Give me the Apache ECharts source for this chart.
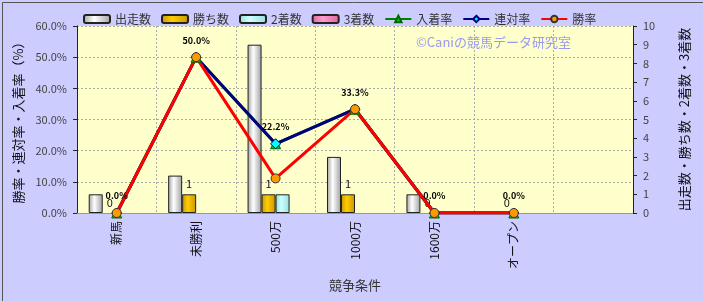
<!DOCTYPE html>
<html><head><meta charset="utf-8">
<script src="https://cdn.jsdelivr.net/npm/echarts@6/dist/echarts.min.js"></script>
<style>html,body{margin:0;padding:0;background:#ccccff;}#c{width:703px;height:301px;}</style>
</head><body><div id="c"></div>
<script>
const categories = ['新馬','未勝利','500万','1000万','1600万','オープン'];
const starts   = [1, 2, 9, 3, 1, 0];
const wins     = [0, 1, 1, 1, 0, 0];
const seconds  = [0, 0, 1, 0, 0, 0];
const thirds   = [0, 0, 0, 0, 0, 0];
const placeRate   = [0, 50, 22.2, 33.3, 0, 0];
const rentaiRate  = [0, 50, 22.2, 33.3, 0, 0];
const winRate     = [0, 50, 11.1, 33.3, 0, 0];

function hGrad(edge, mid) {
  return new echarts.graphic.LinearGradient(0,0,1,0,[
    {offset:0,color:edge},{offset:0.4,color:mid},{offset:1,color:edge}]);
}
// zero-height bars get no outline
function barData(arr) {
  return arr.map(v => v === 0 ? {value:v, itemStyle:{borderWidth:0}} : v);
}
const FONT = "'Noto Sans CJK JP', 'DejaVu Sans', sans-serif";
const chart = echarts.init(document.getElementById('c'), null, {renderer:'canvas'});
const barBase = {type:'bar', yAxisIndex:1, barWidth:14, barGap:'0%'};
const grid = {type:[2,2], color:'#aaaaaa', width:1};
chart.setOption({
  animation:false,
  backgroundColor:'#ccccff',
  textStyle:{fontFamily:FONT},
  graphic:[
    {type:'rect', left:0, top:0, shape:{width:702, height:300}, style:{fill:'none', stroke:'#555', lineWidth:1}, silent:true},
    {type:'text', left:416, top:36, style:{text:'©Caniの競馬データ研究室', fill:'#9a9af0', font:'13px '+FONT}, z:100}
  ],
  legend:{
    left:78, top:8, itemWidth:26, itemHeight:8, itemGap:10,
    textStyle:{fontSize:12, color:'#333', fontFamily:FONT},
    data:[
      {name:'出走数', icon:'roundRect'},
      {name:'勝ち数', icon:'roundRect'},
      {name:'2着数', icon:'roundRect'},
      {name:'3着数', icon:'roundRect'},
      '入着率','連対率','勝率']
  },
  grid:{left:77, right:70, top:26, bottom:88, show:true, backgroundColor:'#ffffcc', borderWidth:0},
  xAxis:{
    type:'category', data:categories.concat(['']),
    name:'競争条件', nameLocation:'middle', nameGap:66,
    nameTextStyle:{fontSize:13, color:'#333'},
    axisLine:{lineStyle:{color:'#999'}}, axisTick:{show:false},
    axisLabel:{rotate:90, margin:8, fontSize:12, color:'#111', interval:0},
    splitLine:{show:true, lineStyle:grid}
  },
  yAxis:[
    {type:'value', min:0, max:60, interval:10,
     name:'勝率・連対率・入着率（%）', nameLocation:'middle', nameGap:52, nameRotate:90,
     nameTextStyle:{fontSize:13, color:'#111'},
     axisLine:{show:true, lineStyle:{color:'#222'}}, axisTick:{show:true, length:4, lineStyle:{color:'#222'}},
     axisLabel:{fontSize:11, color:'#444', margin:10, formatter:v=>v.toFixed(1)+'%'},
     splitLine:{show:true, lineStyle:grid}},
    {type:'value', min:0, max:10, interval:1,
     name:'出走数・勝ち数・2着数・3着数', nameLocation:'middle', nameGap:45, nameRotate:90,
     nameTextStyle:{fontSize:13, color:'#111'},
     axisLine:{show:true, lineStyle:{color:'#222'}}, axisTick:{show:true, length:4, lineStyle:{color:'#222'}},
     axisLabel:{fontSize:11, color:'#444', margin:10},
     splitLine:{show:false}}
  ],
  series:[
    Object.assign({}, barBase, {name:'出走数', data:barData(starts), itemStyle:{borderColor:'#222', borderWidth:1, color:hGrad('#a0a0a0','#ffffff')}}),
    Object.assign({}, barBase, {name:'勝ち数', data:barData(wins), itemStyle:{borderColor:'#222', borderWidth:1, color:hGrad('#c99700','#ffcc00')},
      label:{show:true, position:'top', distance:5, fontSize:11, color:'#111'}}),
    Object.assign({}, barBase, {name:'2着数', data:barData(seconds), itemStyle:{borderColor:'#222', borderWidth:1, color:hGrad('#99dddd','#ccffff')}}),
    Object.assign({}, barBase, {name:'3着数', data:barData(thirds), itemStyle:{borderColor:'#222', borderWidth:1, color:hGrad('#dd6699','#ff99cc')}}),
    {type:'line', name:'入着率', yAxisIndex:0, data:placeRate, symbol:'triangle', symbolSize:10,
     lineStyle:{color:'#008000', width:3}, itemStyle:{color:'#00cc00', borderColor:'#006600', borderWidth:1}},
    {type:'line', name:'連対率', yAxisIndex:0, data:rentaiRate, symbol:'diamond', symbolSize:10,
     lineStyle:{color:'#000080', width:3}, itemStyle:{color:'#00ffff', borderColor:'#000080', borderWidth:1},
     label:{show:true, position:'top', distance:7, fontSize:9, fontWeight:'bold', color:'#000', formatter:p=>p.value.toFixed(1)+'%'}},
    {type:'line', name:'勝率', yAxisIndex:0, data:winRate, symbol:'circle', symbolSize:9,
     lineStyle:{color:'#ff0000', width:3}, itemStyle:{color:'#ff9900', borderColor:'#333', borderWidth:1}}
  ]
});
</script></body></html>
